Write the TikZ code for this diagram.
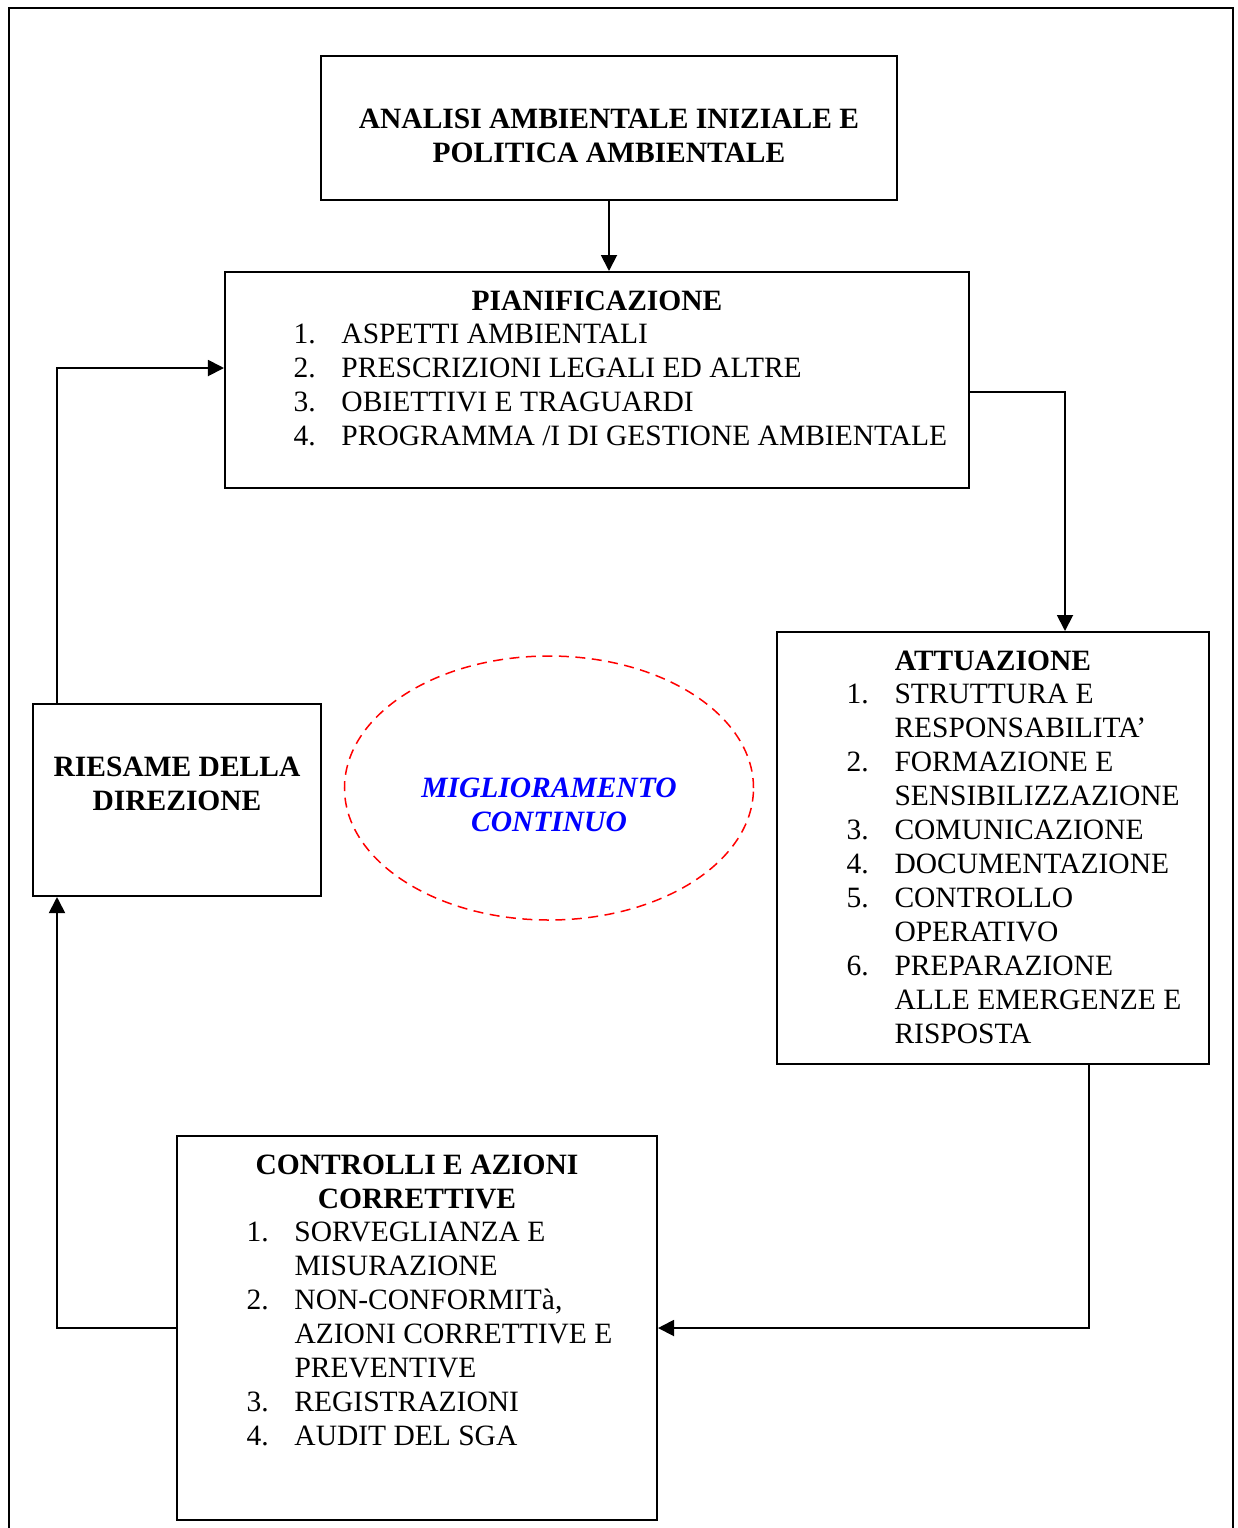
\documentclass[tikz,border=0pt]{standalone}
\usepackage{fontspec}
\setmainfont{Liberation Serif}
\usepackage{tikz}
\usetikzlibrary{positioning}
\usetikzlibrary{calc}
\usetikzlibrary{arrows.meta}
\usetikzlibrary{shapes.geometric}
\definecolor{loopColor}{rgb}{1,0,0}
\definecolor{loopText}{rgb}{0,0,1}

\begin{document}
\begin{tikzpicture}[x=0.4pt,y=-0.4pt,font=\fontsize{11.8}{13.6}\selectfont]

          \tikzstyle{boxNode} = [draw, line width=0.8pt, inner sep=0pt];
          \tikzstyle{titleNode} = [anchor=base, inner sep=0pt, font=\fontsize{11.8}{13.6}\selectfont\bfseries];
          \tikzstyle{listNode} = [anchor=base west, inner sep=0pt];
          \tikzstyle{loopNode} = [draw=loopColor, dash pattern=on 4pt off 2.6pt, line width=0.6pt, ellipse, inner sep=0pt];
          \tikzstyle{arrowEdge} = [line width=0.75pt, -{Triangle[length=6.4pt,width=6.4pt]}];

          \useasboundingbox (0,0) rectangle (1238,1528);
          \draw[line width=1pt] (9,1530) -- (9,8) -- (1233,8) -- (1233,1530);

          % boxes
          \node[boxNode, minimum width=230.4pt, minimum height=57.6pt] (analisi) at (609,128) {};
          \node[boxNode, minimum width=297.6pt, minimum height=86.4pt] (pian) at (597,380) {};
          \node[boxNode, minimum width=172.8pt, minimum height=172.8pt] (attuaz) at (993,848) {};
          \node[boxNode, minimum width=192pt, minimum height=153.6pt] (controlli) at (417,1328) {};
          \node[boxNode, minimum width=115.2pt, minimum height=76.8pt] (riesame) at (177,800) {};
          \node[loopNode, minimum width=163.6pt, minimum height=105.6pt] (miglior) at (549,788) {};

          % texts
          \node[titleNode] (analisiT) at (609,128) {\begin{tabular}[t]{@{}c@{}}ANALISI AMBIENTALE INIZIALE E\\POLITICA AMBIENTALE\end{tabular}};

          \node[titleNode] (pianT) at (597,310) {PIANIFICAZIONE};
          \node[listNode] (pianL) at (293,343) {\begin{tabular}[t]{@{}p{19.2pt}@{}l@{}}
            1. & ASPETTI AMBIENTALI\\
            2. & PRESCRIZIONI LEGALI ED ALTRE\\
            3. & OBIETTIVI E TRAGUARDI\\
            4. & PROGRAMMA /I DI GESTIONE AMBIENTALE
          \end{tabular}};

          \node[titleNode] (attuazT) at (993,670) {ATTUAZIONE};
          \node[listNode] (attuazL) at (846,703) {\begin{tabular}[t]{@{}p{19.2pt}@{}l@{}}
            1. & STRUTTURA E\\
               & RESPONSABILITA’\\
            2. & FORMAZIONE E\\
               & SENSIBILIZZAZIONE\\
            3. & COMUNICAZIONE\\
            4. & DOCUMENTAZIONE\\
            5. & CONTROLLO\\
               & OPERATIVO\\
            6. & PREPARAZIONE\\
               & ALLE EMERGENZE E\\
               & RISPOSTA
          \end{tabular}};

          \node[titleNode] (controlliT) at (417,1174) {\begin{tabular}[t]{@{}c@{}}CONTROLLI E AZIONI\\CORRETTIVE\end{tabular}};
          \node[listNode] (controlliL) at (246,1241) {\begin{tabular}[t]{@{}p{19.2pt}@{}l@{}}
            1. & SORVEGLIANZA E\\
               & MISURAZIONE\\
            2. & NON-CONFORMITà,\\
               & AZIONI CORRETTIVE E\\
               & PREVENTIVE\\
            3. & REGISTRAZIONI\\
            4. & AUDIT DEL SGA
          \end{tabular}};

          \node[titleNode] (riesameT) at (177,776) {\begin{tabular}[t]{@{}c@{}}RIESAME DELLA\\DIREZIONE\end{tabular}};

          \node[titleNode, text=loopText] (migliorT) at (549,797) {\itshape\begin{tabular}[t]{@{}c@{}}MIGLIORAMENTO\\CONTINUO\end{tabular}};

          % connectors
          \draw[arrowEdge] (analisi.south) -- (analisi.south |- pian.north);
          \draw[arrowEdge] ($(pian.east)+(0,12)$) -| ($(attuaz.north)+(72,0)$);
          \draw[arrowEdge] ($(attuaz.south)+(96,0)$) |- (controlli.east);
          \draw[arrowEdge] (controlli.west) -| ($(riesame.south)+(-120,0)$);
          \draw[arrowEdge] ($(riesame.north)+(-120,0)$) |- ($(pian.west)+(0,-12)$);
        \end{tikzpicture}
\end{document}
